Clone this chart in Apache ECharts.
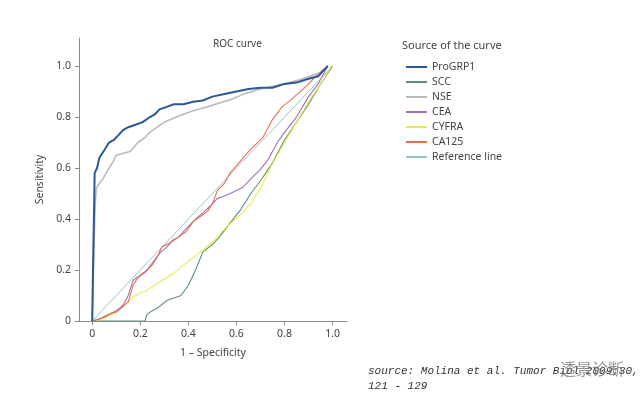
<!DOCTYPE html>
<html>
<head>
<meta charset="utf-8">
<script src="https://cdn.jsdelivr.net/npm/echarts@6/dist/echarts.min.js"></script>
<style>
  html, body { margin: 0; padding: 0; background: #fff; }
  #roc { width: 640px; height: 398px; }
</style>
</head>
<body>
<div id="roc"></div>
<script>
// tick labels
const xTicks = [0, 0.2, 0.4, 0.6, 0.8, 1.0];
const yTicks = [0, 0.2, 0.4, 0.6, 0.8, 1.0];

// series names (legend order)
const names = ["ProGRP1", "SCC", "NSE", "CEA", "CYFRA", "CA125", "Reference line"];

// [1 - specificity, sensitivity]
const proGRP1 = [[0,0],[0.005,0.3],[0.008,0.45],[0.01,0.58],[0.02,0.6],[0.03,0.64],[0.05,0.67],[0.07,0.7],[0.09,0.71],[0.11,0.73],[0.13,0.75],[0.15,0.76],[0.18,0.77],[0.21,0.78],[0.24,0.8],[0.26,0.81],[0.28,0.83],[0.31,0.84],[0.34,0.85],[0.38,0.85],[0.42,0.86],[0.46,0.865],[0.5,0.88],[0.55,0.89],[0.6,0.9],[0.65,0.91],[0.7,0.915],[0.75,0.915],[0.8,0.93],[0.85,0.935],[0.9,0.95],[0.94,0.96],[0.97,0.99],[0.98,1.0]];
const scc = [[0,0],[0.22,0],[0.228,0.027],[0.25,0.04],[0.27,0.05],[0.31,0.08],[0.37,0.1],[0.4,0.14],[0.43,0.2],[0.46,0.27],[0.5,0.3],[0.53,0.33],[0.57,0.38],[0.62,0.44],[0.66,0.5],[0.7,0.55],[0.75,0.62],[0.8,0.71],[0.85,0.78],[0.9,0.85],[0.95,0.93],[1,1]];
const nse = [[0,0],[0.008,0.3],[0.012,0.45],[0.017,0.52],[0.03,0.54],[0.046,0.56],[0.07,0.6],[0.087,0.625],[0.1,0.65],[0.116,0.655],[0.158,0.665],[0.19,0.7],[0.22,0.72],[0.24,0.74],[0.27,0.76],[0.3,0.78],[0.35,0.8],[0.42,0.825],[0.48,0.84],[0.53,0.855],[0.58,0.87],[0.63,0.89],[0.7,0.91],[0.77,0.925],[0.86,0.945],[0.95,0.975],[0.98,1.0]];
const cea = [[0,0],[0.03,0.008],[0.062,0.024],[0.1,0.04],[0.129,0.063],[0.15,0.1],[0.17,0.16],[0.2,0.18],[0.228,0.2],[0.26,0.24],[0.282,0.267],[0.31,0.29],[0.336,0.318],[0.36,0.33],[0.394,0.365],[0.43,0.4],[0.461,0.424],[0.49,0.45],[0.52,0.48],[0.55,0.49],[0.585,0.505],[0.627,0.525],[0.668,0.565],[0.697,0.592],[0.73,0.63],[0.77,0.7],[0.8,0.74],[0.85,0.8],[0.9,0.88],[0.94,0.93],[0.98,1]];
const cyfra = [[0,0],[0.03,0.005],[0.06,0.016],[0.1,0.035],[0.13,0.06],[0.17,0.094],[0.2,0.11],[0.23,0.122],[0.28,0.153],[0.34,0.188],[0.39,0.227],[0.45,0.27],[0.5,0.31],[0.56,0.37],[0.62,0.42],[0.66,0.46],[0.7,0.52],[0.74,0.6],[0.8,0.7],[0.85,0.78],[0.9,0.86],[0.95,0.93],[0.995,1]];
const ca125 = [[0,0],[0.02,0.005],[0.05,0.015],[0.08,0.03],[0.1,0.035],[0.12,0.05],[0.15,0.075],[0.17,0.14],[0.19,0.17],[0.22,0.19],[0.25,0.22],[0.27,0.25],[0.29,0.29],[0.31,0.3],[0.33,0.31],[0.36,0.33],[0.39,0.35],[0.42,0.39],[0.45,0.41],[0.48,0.43],[0.5,0.46],[0.52,0.51],[0.55,0.54],[0.573,0.58],[0.61,0.62],[0.656,0.67],[0.71,0.72],[0.75,0.79],[0.79,0.84],[0.83,0.87],[0.89,0.92],[0.946,0.975],[0.98,1]];
const reference = [[0,0],[1,1]];

const chart = echarts.init(document.getElementById("roc"));

const txt = "#444";
const fontFamily = "'Noto Sans', 'DejaVu Sans', sans-serif";

function line(name, data, color, width, z) {
  return {
    name: name,
    type: "line",
    data: data,
    symbol: "none",
    smooth: false,
    z: z,
    lineStyle: { color: color, width: width },
    itemStyle: { color: color }
  };
}

function tickFmt(v) {
  return v === 0 ? "0" : v.toFixed(1);
}

chart.setOption({
  animation: false,
  textStyle: { fontFamily: fontFamily },
  grid: { left: 79, right: 293, top: 38, bottom: 77, containLabel: false },
  legend: {
    orient: "vertical",
    left: 401,
    top: 56,
    data: names,
    icon: "rect",
    itemWidth: 21,
    itemHeight: 2,
    itemGap: 3,
    textStyle: { color: txt, fontSize: 10.5, lineHeight: 12, fontFamily: fontFamily }
  },
  graphic: [
    { type: "text", left: 213, top: 39, style: { text: "ROC curve", fill: txt, font: "10px " + fontFamily, textAlign: "center" } },
    { type: "text", left: 402, top: 40, style: { text: "Source of the curve", fill: txt, font: "11px " + fontFamily } },
    { type: "text", left: 368, top: 364, style: { text: "source: Molina et al. Tumor Biol 2009;30,\n121 - 129", fill: "#333", font: "italic 11px 'Liberation Mono', 'DejaVu Sans Mono', monospace", lineHeight: 15 } },
    { type: "text", left: 560, top: 361, style: { text: "透景诊断", fill: "#777", opacity: 0.8, font: "16px 'Noto Sans CJK SC', sans-serif" } }
  ],
  xAxis: {
    type: "value",
    min: -0.055,
    max: 1.06,
    name: "1 – Specificity",
    nameLocation: "middle",
    nameGap: 27,
    nameTextStyle: { color: txt, fontSize: 10.5 },
    axisLine: { show: true, onZero: false, lineStyle: { color: "#8a8a8a", width: 1 } },
    axisTick: { show: true, length: 4, customValues: xTicks, lineStyle: { color: "#8a8a8a" } },
    axisLabel: { customValues: xTicks, formatter: tickFmt, color: txt, fontSize: 10.5, margin: 8 },
    splitLine: { show: false }
  },
  yAxis: {
    type: "value",
    min: 0,
    max: 1.11,
    name: "Sensitivity",
    nameLocation: "middle",
    nameGap: 33,
    nameRotate: 90,
    nameTextStyle: { color: txt, fontSize: 10.5 },
    axisLine: { show: true, onZero: false, lineStyle: { color: "#8a8a8a", width: 1 } },
    axisTick: { show: true, length: 4, customValues: yTicks, lineStyle: { color: "#8a8a8a" } },
    axisLabel: { customValues: yTicks, formatter: tickFmt, color: txt, fontSize: 10.5, margin: 8 },
    splitLine: { show: false }
  },
  series: [
    line("Reference line", reference, "#94c6bc", 1, 1),
    line("SCC", scc, "#5f8f78", 1.1, 2),
    line("CYFRA", cyfra, "#eaea4a", 1.1, 3),
    line("CEA", cea, "#a070bc", 1.1, 4),
    line("CA125", ca125, "#e8704e", 1.1, 5),
    line("NSE", nse, "#b8b8b8", 1.5, 6),
    line("ProGRP1", proGRP1, "#2b5797", 2, 7)
  ]
});
</script>
</body>
</html>
